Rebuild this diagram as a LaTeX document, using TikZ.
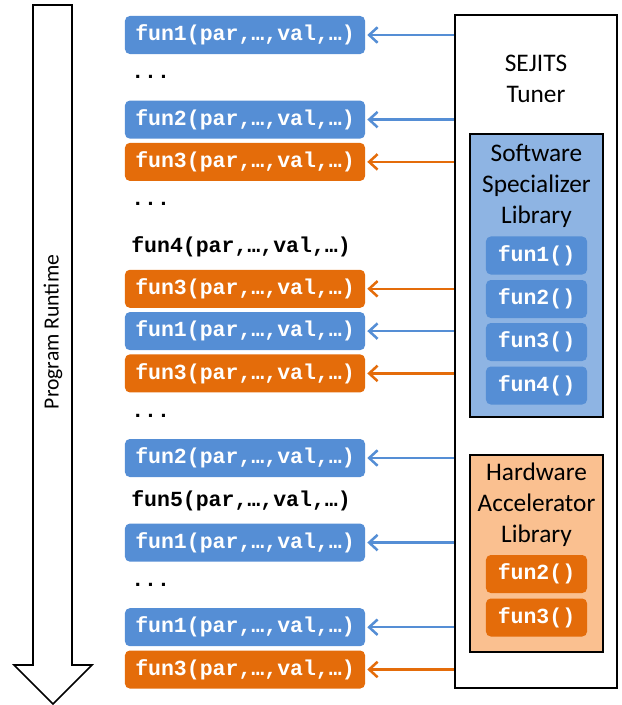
\documentclass[tikz,border=0pt]{standalone}
\usepackage{fontspec}
\setmainfont{Carlito}
\setmonofont{Liberation Mono}
\usetikzlibrary{arrows.meta}
\definecolor{callblue}{RGB}{85,142,213}
\definecolor{callorange}{RGB}{228,108,10}
\definecolor{softfill}{RGB}{142,180,227}
\definecolor{hardfill}{RGB}{250,192,144}
\newcommand{\callfont}{\fontsize{15.3}{18}\selectfont\ttfamily\bfseries}
\tikzset{
 call/.style={rounded corners=0.12cm,minimum width=6cm,minimum height=0.95cm,inner sep=0pt,text=white,font=\callfont},
 plaincall/.style={anchor=west,inner sep=0pt,font=\callfont},
 libfun/.style={call,minimum width=2.525cm},
 libbox/.style={draw=black,line width=1.1pt,minimum width=3.325cm,inner sep=0pt},
 feed/.style={line width=1.8pt,-{Straight Barb[length=6pt,width=11pt,line width=1.8pt]},shorten >=1.4pt}
}
\begin{document}
\begin{tikzpicture}[x=0.025cm,y=-0.025cm,font=\fontsize{18}{22}\selectfont]
 \useasboundingbox (0,0) rectangle (622,705);
 % time arrow
 \draw[line width=1.1pt,fill=white] (33,5)--(72,5)--(72,665)--(92,665)--(53,704)--(14,665)--(33,665)--cycle;
 \node[rotate=90,font=\fontsize{15.4}{18}\selectfont] (runtime) at (53,332) {Program Runtime};
 % calls along the run
 \foreach \i/\f in {0/1,2/2,7/1,10/2,12/1,14/1}{\node[call,fill=callblue] (r\i) at (245,{35+42.3*\i}) {fun\f(par,…,val,…)};}
 \foreach \i/\f in {3/3,6/3,8/3,15/3}{\node[call,fill=callorange] (r\i) at (245,{35+42.3*\i}) {fun\f(par,…,val,…)};}
 \foreach \i/\f in {5/4,11/5}{\node[plaincall] (r\i) at (131,{35+42.3*\i}) {fun\f(par,…,val,…)};}
 \foreach \i in {1,4,9,13}{\node[plaincall] (r\i) at (131,{35+42.3*\i}) {...};}
 % tuner and its libraries
 \node[draw=black,line width=1.1pt,minimum width=4.05cm,minimum height=16.825cm,inner sep=0pt] (tuner) at (536,351.5) {};
 \node[align=center] (tunername) at (536,78.5) {SEJITS\\Tuner};
 \node[libbox,fill=softfill,minimum height=7.075cm] (soft) at (536.5,275.5) {};
 \node[align=center] (softname) at (536.5,186) {Software\\Specializer\\Library};
 \foreach \f/\y in {1/255.5,2/299,3/342,4/385.5}{\node[libfun,fill=callblue] (s\f) at (536.5,\y) {fun\f()};}
 \node[libbox,fill=hardfill,minimum height=4.925cm] (hard) at (536.5,553.5) {};
 \node[align=center] (hardname) at (536.5,505) {Hardware\\Accelerator\\Library};
 \foreach \f/\y in {2/574,3/617.5}{\node[libfun,fill=callorange] (h\f) at (536.5,\y) {fun\f()};}
 % tuner feeds the calls
 \foreach \i/\c in {0/callblue,2/callblue,3/callorange,6/callorange,7/callblue,8/callorange,10/callblue,12/callblue,14/callblue,15/callorange}{
  \draw[feed,\c] (tuner.west|-r\i) -- (r\i.east);}
\end{tikzpicture}
\end{document}
